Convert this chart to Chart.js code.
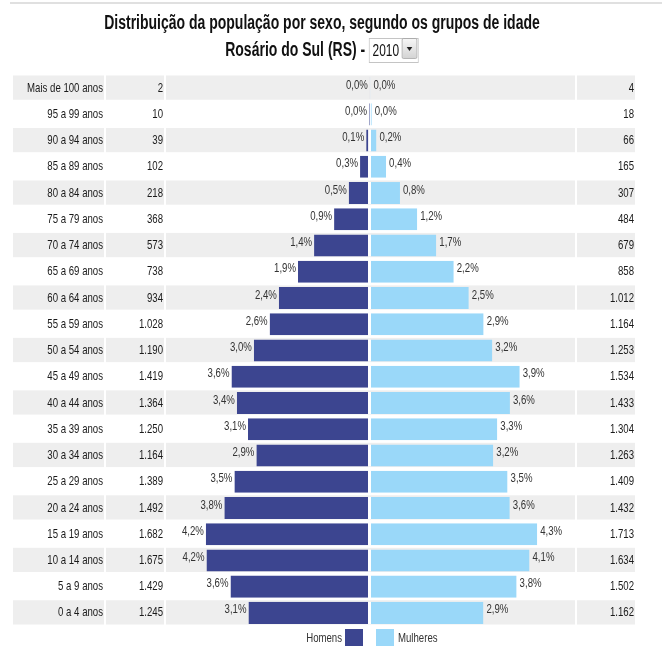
<!DOCTYPE html>
<html>
<head>
<meta charset="utf-8">
<script src="https://cdn.jsdelivr.net/npm/chart.js@4"></script>
<style>
  body { margin: 0; background: #fff; }
  #wrap { position: relative; width: 662px; height: 646px; overflow: hidden; }
  #grafico { position: absolute; left: 0; top: 0; }
  #linha_topo { position: absolute; left: 10px; top: 2px; width: 652px; height: 2px; background: #e0e0e0; }
  #titulo {
    position: absolute; left: 0; top: 9px; width: 644px; text-align: center;
    font-family: "Liberation Sans", Arial, sans-serif;
    font-weight: bold; font-size: 20px; color: #111; line-height: 27px;
    transform: scaleX(0.7); transform-origin: 322px 0;
  }
  #ano { display: inline-block; position: relative; vertical-align: middle; margin-top: -3px; }
  #ano select {
    -webkit-appearance: none; appearance: none;
    font-family: "Liberation Sans", Arial, sans-serif; font-weight: normal;
    font-size: 17px; height: 25px; width: 71px;
    border: 1px solid #c4c4c4; background: #fff; color: #111; padding: 0 0 0 4px; margin: 0;
  }
  #seta {
    position: absolute; right: 2px; top: 2px; width: 20px; height: 19px;
    background: linear-gradient(#f6f6f6, #d4d4d4); border: 1px solid #a8a8a8; border-radius: 2px;
  }
  #seta::after {
    content: ""; position: absolute; left: 6px; top: 8px;
    border-left: 4px solid transparent; border-right: 4px solid transparent; border-top: 4px solid #222;
  }
</style>
</head>
<body>
<div id="wrap">
  <canvas id="grafico" width="662" height="646"></canvas>
  <div id="linha_topo"></div>
  <div id="titulo">
    Distribuição da população por sexo, segundo os grupos de idade<br>
    Rosário do Sul (RS) - <span id="ano"><select><option>2010</option></select><span id="seta"></span></span>
  </div>
</div>
<script>
const faixas_etarias = ["Mais de 100 anos", "95 a 99 anos", "90 a 94 anos", "85 a 89 anos", "80 a 84 anos",
    "75 a 79 anos", "70 a 74 anos", "65 a 69 anos", "60 a 64 anos", "55 a 59 anos", "50 a 54 anos",
    "45 a 49 anos", "40 a 44 anos", "35 a 39 anos", "30 a 34 anos", "25 a 29 anos", "20 a 24 anos",
    "15 a 19 anos", "10 a 14 anos", "5 a 9 anos", "0 a 4 anos"];
const homens = [2, 10, 39, 102, 218, 368, 573, 738, 934, 1028, 1190, 1419, 1364, 1250, 1164, 1389, 1492, 1682, 1675, 1429, 1245];
const mulheres = [4, 18, 66, 165, 307, 484, 679, 858, 1012, 1164, 1253, 1534, 1433, 1304, 1263, 1409, 1432, 1713, 1634, 1502, 1162];
const pct_homens = [0.0, 0.0, 0.1, 0.3, 0.5, 0.9, 1.4, 1.9, 2.4, 2.6, 3.0, 3.6, 3.4, 3.1, 2.9, 3.5, 3.8, 4.2, 4.2, 3.6, 3.1];
const pct_mulheres = [0.0, 0.0, 0.2, 0.4, 0.8, 1.2, 1.7, 2.2, 2.5, 2.9, 3.2, 3.9, 3.6, 3.3, 3.2, 3.5, 3.6, 4.3, 4.1, 3.8, 2.9];

const fonte = '"Liberation Sans", Arial, sans-serif';
const cor_homens = "#3c4590";
const cor_mulheres = "#9ad8f9";

// sem Arial Narrow instalada: comprime o texto do canvas na horizontal
const canvas = document.querySelector("#grafico");
const ctx2d = canvas.getContext("2d");
const fillText_original = ctx2d.fillText.bind(ctx2d);
ctx2d.fillText = function (t, x, y, mw)
{
    const w = this.measureText(t).width * 0.74;
    return fillText_original(t, x, y, mw !== undefined ? Math.min(mw, w) : w);
};

function milhar(v)
{
    return String(v).replace(/\B(?=(\d{3})+(?!\d))/g, ".");
}
function porcento(v)
{
    return v.toFixed(1).replace(".", ",") + "%";
}

// faixas cinzas alternadas, uma por coluna da tabela
const faixas_plugin =
{
    id: "faixas",
    beforeDraw(chart)
    {
        const {ctx, chartArea, scales} = chart;
        const h = (chartArea.bottom - chartArea.top) / faixas_etarias.length;
        const colunas =
            [
                [scales.y.left, scales.y.right - 1],
                [scales.yHomens.left + 1, scales.yHomens.right - 1],
                [chartArea.left + 1, chartArea.right],
                [scales.yMulheres.left + 2, scales.yMulheres.right + 1]
            ];
        ctx.save();
        ctx.fillStyle = "#eeeeee";
        for (let i = 0; i < faixas_etarias.length; i += 2)
        {
            const top = chartArea.top + i * h;
            colunas.forEach(c => ctx.fillRect(c[0], top + 0.5, c[1] - c[0], h - 2));
        }
        ctx.restore();
    }
};

// rotulos de percentual na ponta das barras + legenda
const rotulos_plugin =
{
    id: "rotulos",
    afterDatasetsDraw(chart)
    {
        const ctx = chart.ctx;
        ctx.save();
        ctx.font = "13px " + fonte;
        ctx.fillStyle = "#333";
        ctx.textBaseline = "middle";
        chart.getDatasetMeta(0).data.forEach((el, i) =>
        {
            ctx.textAlign = "right";
            ctx.fillText(porcento(pct_homens[i]), el.x - 2, el.y - 3);
        });
        chart.getDatasetMeta(1).data.forEach((el, i) =>
        {
            ctx.textAlign = "left";
            ctx.fillText(porcento(pct_mulheres[i]), el.x + 3, el.y - 3);
        });

        const cx = chart.scales.x.getPixelForValue(0);
        const ly = chart.chartArea.bottom + 3;
        ctx.fillStyle = cor_homens;
        ctx.fillRect(cx - 25, ly, 18, 20);
        ctx.fillStyle = cor_mulheres;
        ctx.fillRect(cx + 6, ly, 18, 20);
        ctx.fillStyle = "#333";
        ctx.textAlign = "right";
        ctx.fillText("Homens", cx - 28, ly + 9);
        ctx.textAlign = "left";
        ctx.fillText("Mulheres", cx + 28, ly + 9);
        ctx.restore();
    }
};

const eixo_tabela = (labels, position, weight, width, align) => ({
    type: "category",
    labels: labels,
    position: position,
    weight: weight,
    offset: true,
    grid: { display: false, drawTicks: false },
    border: { display: false },
    ticks: { autoSkip: false, color: "#1a1a1a", padding: 2, crossAlign: align, font: { family: fonte, size: 13 } },
    afterFit: (scale) => { scale.width = width; }
});

const data =
{
    labels: faixas_etarias,
    datasets:
        [{
            label: "Homens",
            data: homens.map(v => -v),
            backgroundColor: cor_homens,
            borderColor: "#ffffff",
            borderWidth: { top: 0, bottom: 0, left: 0, right: 2 },
            borderSkipped: false,
            barPercentage: 0.84,
            categoryPercentage: 1
        },
        {
            label: "Mulheres",
            data: mulheres,
            backgroundColor: cor_mulheres,
            borderColor: "#ffffff",
            borderWidth: { top: 0, bottom: 0, left: 1, right: 0 },
            borderSkipped: false,
            barPercentage: 0.84,
            categoryPercentage: 1
        }]
};

const config =
{
    type: "bar",
    data,
    options:
    {
        indexAxis: "y",
        responsive: false,
        animation: false,
        layout: { padding: { top: 75, bottom: 20, left: 13, right: 28 } },
        scales:
        {
            x:
            {
                type: "linear",
                min: -2100,
                max: 2100,
                stacked: true,
                display: false
            },
            y: Object.assign(eixo_tabela(faixas_etarias, "left", 2, 92, "near"), { stacked: true }),
            yHomens: eixo_tabela(homens.map(milhar), "left", 1, 60, "near"),
            yMulheres: eixo_tabela(mulheres.map(milhar), "right", 1, 59, "far")
        },
        plugins:
        {
            legend: { display: false },
            tooltip: { enabled: false }
        }
    },
    plugins: [faixas_plugin, rotulos_plugin]
};

const myChart = new Chart(canvas, config);
</script>
</body>
</html>
